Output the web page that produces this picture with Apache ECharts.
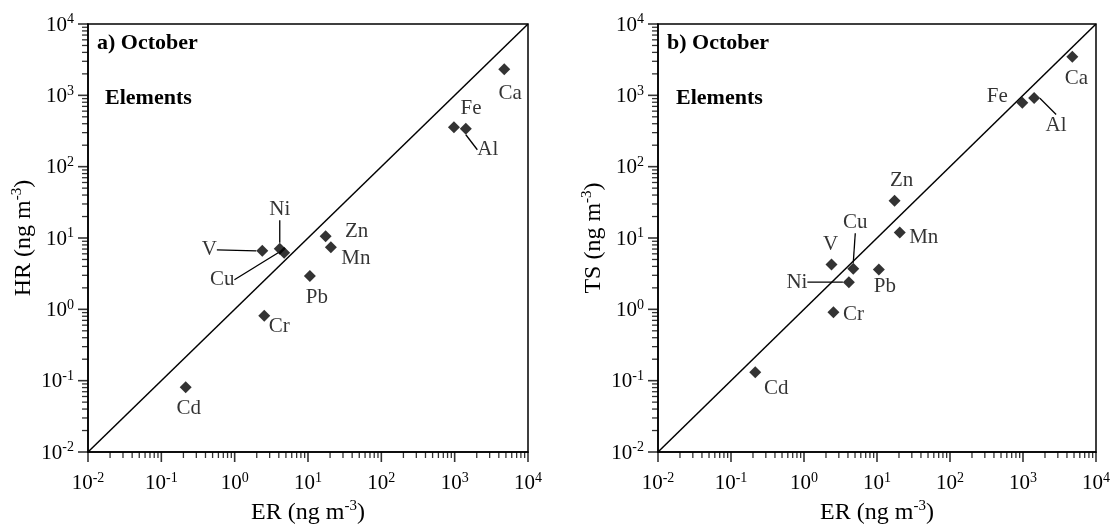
<!DOCTYPE html>
<html>
<head>
<meta charset="utf-8">
<script src="https://cdn.jsdelivr.net/npm/echarts@6/dist/echarts.min.js"></script>
<style>
  html, body { margin: 0; padding: 0; background: #fff; }
  #chart { width: 1111px; height: 525px; }
</style>
</head>
<body>
<div id="chart"></div>
<script>
// Element concentrations (ng m-3), October
const elements = ['Ca', 'Fe', 'Al', 'Zn', 'Mn', 'Pb', 'Cr', 'Cd', 'V', 'Ni', 'Cu'];
const er = [4740, 978, 1420, 17.4, 20.5, 10.6, 2.53, 0.215, 2.38, 4.12, 4.73];
const hr = [2320, 358, 340, 10.6, 7.4, 2.94, 0.815, 0.0806, 6.62, 7.06, 6.2];
const ts = [3470, 789, 916, 33.2, 11.9, 3.62, 0.908, 0.131, 4.26, 2.40, 3.70];

// Axis range and 1:1 reference line
const AXIS_MIN = 0.01, AXIS_MAX = 10000;
const oneToOne = [[AXIS_MIN, AXIS_MIN], [AXIS_MAX, AXIS_MAX]];

// Axis ticks: labelled decades, plus 2..9 minor ticks inside each decade
const decades = [0.01, 0.1, 1, 10, 100, 1000, 10000];
const minorTicks = [];
decades.slice(0, -1).forEach(d => {
  for (let k = 2; k <= 9; k++) minorTicks.push(Number((d * k).toPrecision(3)));
});

// Label placement (pixel offsets from each marker) and which labels get a leader line
const labelOffsetA = {
  Ca: [6, 24], Fe: [17, -19], Al: [22, 21], Zn: [31, -5], Mn: [25, 11], Pb: [7, 22],
  Cr: [15, 11], Cd: [3, 21], V: [-53, -1], Ni: [0, -39], Cu: [-62, 27]
};
const labelOffsetB = {
  Ca: [4, 22], Fe: [-25, -6], Al: [22, 27], Zn: [7, -20], Mn: [24, 5], Pb: [6, 17],
  Cr: [20, 2], Cd: [21, 16], V: [-1, -20], Ni: [-52, 0], Cu: [2, -46]
};
const leadersA = ['V', 'Ni', 'Cu', 'Al'];
const leadersB = ['Ni', 'Cu', 'Al'];

const SERIF = '"Liberation Serif", "Times New Roman", serif';
const INK = '#000';

const tickRich = {
  b: { fontSize: 21, fontFamily: SERIF, color: INK, verticalAlign: 'bottom' },
  s: { fontSize: 14, fontFamily: SERIF, color: INK, verticalAlign: 'bottom', padding: [0, 0, 9, 0] }
};
const nameRich = {
  t: { fontSize: 24, fontFamily: SERIF, color: INK, verticalAlign: 'bottom' },
  s: { fontSize: 15, fontFamily: SERIF, color: INK, verticalAlign: 'bottom', padding: [0, 0, 11, 0] }
};
const powerLabel = v => '{b|10}{s|' + Math.round(Math.log10(v)) + '}';
const unitName = q => '{t|' + q + ' (ng m}{s|-3}{t|)}';

function logAxis(dim, gridIndex, name) {
  const isX = dim === 'x';
  return {
    type: 'log', logBase: 10, gridIndex, min: AXIS_MIN, max: AXIS_MAX,
    position: isX ? 'bottom' : 'left',
    name, nameLocation: 'middle', nameGap: isX ? 42 : 52,
    nameTextStyle: { rich: nameRich },
    axisLine: { show: true, onZero: false, lineStyle: { color: INK, width: 1.5 } },
    axisTick: { show: false },
    axisLabel: { show: true, margin: isX ? 19 : 14, customValues: decades, formatter: powerLabel, rich: tickRich },
    splitLine: { show: false }
  };
}

// Outward tick marks along the bottom (dim 'x') or left (dim 'y') axis:
// thin rect symbols placed on the axis through its own log scale
function tickSeries(axisIndex, dim, values, len, width) {
  const isX = dim === 'x';
  return {
    type: 'scatter', xAxisIndex: axisIndex, yAxisIndex: axisIndex,
    clip: false, silent: true, z: 4,
    symbol: 'rect',
    symbolSize: isX ? [width, len] : [len, width],
    symbolOffset: isX ? [0, len / 2] : [-len / 2, 0],
    itemStyle: { color: INK },
    label: { show: false },
    emphasis: { disabled: true },
    data: values.map(v => (isX ? [v, AXIS_MIN] : [AXIS_MIN, v]))
  };
}
function axisTicks(axisIndex) {
  return [
    tickSeries(axisIndex, 'x', decades, 10, 1.6),
    tickSeries(axisIndex, 'x', minorTicks, 6, 1.3),
    tickSeries(axisIndex, 'y', decades, 10, 1.6),
    tickSeries(axisIndex, 'y', minorTicks, 6, 1.3)
  ];
}

function scatterSeries(axisIndex, yValues, offsets, leaders) {
  return {
    type: 'scatter',
    xAxisIndex: axisIndex, yAxisIndex: axisIndex,
    symbol: 'diamond', symbolSize: 12,
    itemStyle: { color: INK },
    data: elements.map((name, i) => ({
      name, value: [er[i], yValues[i]],
      labelLine: { show: leaders.includes(name) }
    })),
    label: {
      show: true, position: 'inside', formatter: '{b}',
      fontSize: 21, fontFamily: SERIF, color: INK
    },
    labelLine: { show: false, lineStyle: { color: INK, width: 1.3 } },
    labelLayout: params => {
      const o = offsets[elements[params.dataIndex]];
      return { dx: o[0], dy: o[1] };
    },
    emphasis: { disabled: true },
    z: 3
  };
}
function diagonalSeries(axisIndex) {
  return {
    type: 'line', xAxisIndex: axisIndex, yAxisIndex: axisIndex,
    data: oneToOne, symbol: 'none', silent: true,
    lineStyle: { color: INK, width: 1.5 }, z: 2
  };
}

const boldText = { fontSize: 22, fontWeight: 'bold', fontFamily: SERIF, color: INK };
const gridBase = {
  top: 24, bottom: 73, show: true, borderColor: INK, borderWidth: 1.5,
  backgroundColor: 'transparent', containLabel: false, outerBoundsMode: 'none'
};

const chart = echarts.init(document.getElementById('chart'), null, { renderer: 'canvas' });
chart.setOption({
  backgroundColor: '#fff',
  animation: false,
  title: [
    { text: 'a) October', left: 97, top: 32, padding: 0, textStyle: boldText },
    { text: 'Elements', left: 105, top: 87, padding: 0, textStyle: boldText },
    { text: 'b) October', left: 667, top: 32, padding: 0, textStyle: boldText },
    { text: 'Elements', left: 676, top: 87, padding: 0, textStyle: boldText }
  ],
  grid: [
    Object.assign({ left: 88, right: 583 }, gridBase),
    Object.assign({ left: 658, right: 15 }, gridBase)
  ],
  xAxis: [logAxis('x', 0, unitName('ER')), logAxis('x', 1, unitName('ER'))],
  yAxis: [logAxis('y', 0, unitName('HR')), logAxis('y', 1, unitName('TS'))],
  series: [
    diagonalSeries(0),
    scatterSeries(0, hr, labelOffsetA, leadersA),
    ...axisTicks(0),
    diagonalSeries(1),
    scatterSeries(1, ts, labelOffsetB, leadersB),
    ...axisTicks(1)
  ]
});
</script>
</body>
</html>
